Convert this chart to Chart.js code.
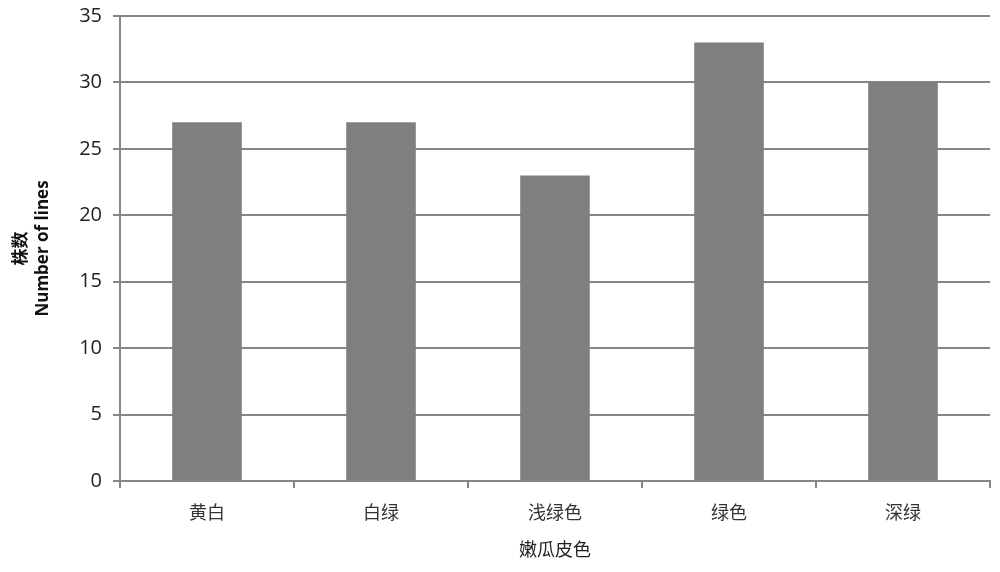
<!DOCTYPE html>
<html><head><meta charset="utf-8">
<script src="https://cdn.jsdelivr.net/npm/chart.js@4"></script>
<style>html,body{margin:0;padding:0;background:#fff}#w{width:1000px;height:572px}</style>
</head><body><div id="w"><canvas id="c"></canvas></div>
<script>
const categories = ["黄白", "白绿", "浅绿色", "绿色", "深绿"];
const counts = [27, 27, 23, 33, 30];
const yTitle = ["株数", "Number of lines"];
const xTitle = "嫩瓜皮色";

new Chart(document.getElementById('c'), {
  type: 'bar',
  data: { labels: categories, datasets: [{ data: counts, backgroundColor: '#7f7f7f', categoryPercentage: 1, barPercentage: 0.4 }] },
  options: {
    responsive: true, maintainAspectRatio: false, animation: false,
    layout: { padding: { left: 8, right: 10, top: 16, bottom: 8 } },
    plugins: { legend: { display: false }, tooltip: { enabled: false } },
    scales: {
      x: {
        grid: { display: true, drawOnChartArea: false, drawTicks: true, tickLength: 7, color: '#868686', lineWidth: 2, offset: true },
        border: { color: '#868686', width: 2 },
        ticks: { color: '#333', font: { family: '"Noto Sans CJK SC"', size: 18 }, padding: 13 },
        title: { display: true, text: xTitle, color: '#222', font: { family: '"Noto Sans CJK SC"', size: 18 }, padding: { top: 4 } },
        afterFit: s => { s.height = 83; }
      },
      y: {
        min: 0, max: 35,
        ticks: { stepSize: 5, color: '#222', font: { family: '"Open Sans"', size: 20, lineHeight: 0.5 }, padding: 11 },
        grid: { color: '#868686', lineWidth: 2, tickLength: 7 },
        border: { color: '#868686', width: 2 },
        title: { display: true, text: yTitle, color: '#111', font: { family: '"Open Sans","Noto Sans CJK SC"', size: 17, weight: 'bold', lineHeight: 1.3 }, padding: 2 },
        afterFit: s => { s.width = 112; }
      }
    }
  }
});
</script></body></html>
